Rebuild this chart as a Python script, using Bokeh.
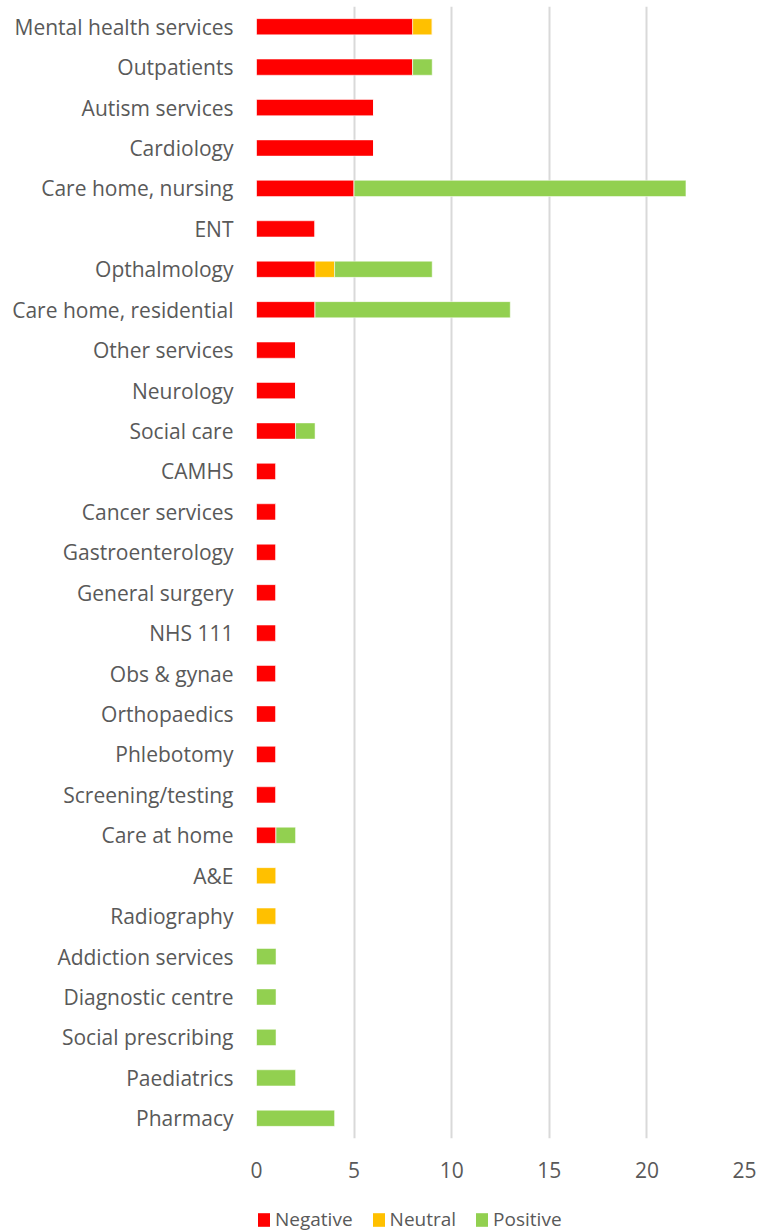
from bokeh.plotting import figure
from bokeh.layouts import column
from bokeh.models import ColumnDataSource, Legend, FixedTicker
from bokeh.embed import file_html
from bokeh.resources import INLINE

categories = [
    "Mental health services", "Outpatients", "Autism services", "Cardiology",
    "Care home, nursing", "ENT", "Opthalmology", "Care home, residential",
    "Other services", "Neurology", "Social care", "CAMHS", "Cancer services",
    "Gastroenterology", "General surgery", "NHS 111", "Obs & gynae",
    "Orthopaedics", "Phlebotomy", "Screening/testing", "Care at home", "A&E",
    "Radiography", "Addiction services", "Diagnostic centre",
    "Social prescribing", "Paediatrics", "Pharmacy",
]
negative = [8, 8, 6, 6, 5, 3, 3, 3, 2, 2, 2, 1, 1, 1, 1, 1, 1, 1, 1, 1, 1, 0, 0, 0, 0, 0, 0, 0]
neutral = [1, 0, 0, 0, 0, 0, 1, 0, 0, 0, 0, 0, 0, 0, 0, 0, 0, 0, 0, 0, 0, 1, 1, 0, 0, 0, 0, 0]
positive = [0, 1, 0, 0, 17, 0, 5, 10, 0, 0, 1, 0, 0, 0, 0, 0, 0, 0, 0, 0, 1, 0, 0, 1, 1, 1, 2, 4]
series = ["Negative", "Neutral", "Positive"]
colors = ["#FF0000", "#FFC000", "#92D050"]
x_ticks = [0, 5, 10, 15, 20, 25]

FONT = "Open Sans"
TXT = "#595959"

src = ColumnDataSource(dict(cat=categories, Negative=negative, Neutral=neutral, Positive=positive))

p = figure(
    y_range=list(reversed(categories)), x_range=(0, 25),
    width=771, height=1196, output_backend="svg", toolbar_location=None,
    min_border_left=256, min_border_right=27, min_border_top=6, min_border_bottom=58,
)
p.outline_line_color = None

rends = p.hbar_stack(series, y="cat", height=0.4, color=colors, source=src,
                     line_color="white", line_width=0.5)

p.xaxis.ticker = FixedTicker(ticks=x_ticks)
for ax in (p.xaxis[0], p.yaxis[0]):
    ax.axis_line_color = None
    ax.major_tick_line_color = None
    ax.minor_tick_line_color = None
    ax.major_tick_out = 0
    ax.major_tick_in = 0
    ax.major_label_text_font = FONT
    ax.major_label_text_font_size = "21px"
    ax.major_label_text_color = TXT
p.xaxis.major_label_standoff = 23
p.yaxis.major_label_standoff = 23

p.xgrid.grid_line_color = "#d9d9d9"
p.xgrid.grid_line_width = 2
p.ygrid.grid_line_color = None

# legend strip (separate figure so the legend can sit under the chart)
lg = figure(width=771, height=36, output_backend="svg", toolbar_location=None,
            x_range=(0, 1), y_range=(0, 1), x_axis_location=None, y_axis_location=None,
            min_border=0)
lg.outline_line_color = None
lg.grid.grid_line_color = None
lg.background_fill_alpha = 0
lg.border_fill_alpha = 0
# zero-size legend proxies (draw nothing themselves)
dummy = [lg.hbar(y=[0.5], left=[0], right=[0], height=0.4, fill_color=c, line_color=None)
         for c in colors]

legend = Legend(
    items=[(s, [r]) for s, r in zip(series, dummy)],
    orientation="horizontal", location=(0, 0),
    glyph_width=15, glyph_height=17, spacing=18, label_standoff=4,
    label_text_font=FONT, label_text_font_size="19px", label_text_color=TXT,
    border_line_color=None, background_fill_alpha=0, padding=0, margin=0,
)
lg.add_layout(legend, "center")

layout = column(p, lg, spacing=0)
open("out.html", "w").write(file_html(layout, INLINE))
